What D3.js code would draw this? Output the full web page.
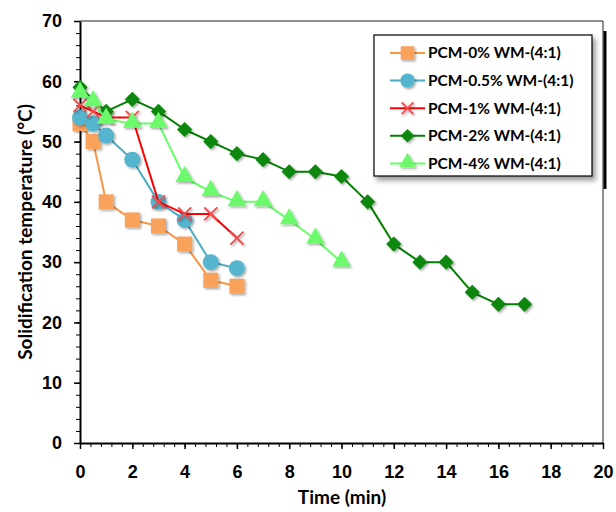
<!DOCTYPE html>
<html>
<head>
<meta charset="utf-8">
<script src="https://cdn.jsdelivr.net/npm/d3@7"></script>
<style>
  body { margin: 0; background: #fff; }
  svg { font-family: Lato, "Liberation Sans", sans-serif; font-weight: bold; }
  .axis text { font-size: 18px; font-weight: bold; fill: #000; }
  .axis path, .axis line { stroke: #000; }
</style>
</head>
<body>
<svg width="616" height="512"></svg>
<script>
// ---- data ----
var seriesNames = ["PCM-0% WM-(4:1)", "PCM-0.5% WM-(4:1)", "PCM-1% WM-(4:1)", "PCM-2% WM-(4:1)", "PCM-4% WM-(4:1)"];

var time0 = [0, 0.5, 1, 2, 3, 4, 5, 6];
var temp0 = [53, 50, 40, 37, 36, 33, 27, 26];

var time05 = [0, 0.5, 1, 2, 3, 4, 5, 6];
var temp05 = [54, 53, 51, 47, 40, 37, 30, 29];

var time1 = [0, 0.5, 1, 2, 3, 4, 5, 6];
var temp1 = [56, 55, 54, 54, 40, 38, 38, 34];

var time2 = [0, 1, 2, 3, 4, 5, 6, 7, 8, 9, 10, 11, 12, 13, 14, 15, 16, 17];
var temp2 = [59, 55, 57, 55, 52, 50, 48, 47, 45, 45, 44.2, 40, 33, 30, 30, 25, 23, 23];

var time4 = [0, 0.5, 1, 2, 3, 4, 5, 6, 7, 8, 9, 10];
var temp4 = [58, 56.6, 53.7, 53, 53, 44, 41.7, 40, 40, 37, 33.8, 30];

var xTicks = [0, 2, 4, 6, 8, 10, 12, 14, 16, 18, 20];
var yTicks = [0, 10, 20, 30, 40, 50, 60, 70];

// ---- styles per series ----
var styles = [
  {line: "#F79646", fill: "#F9A25C", marker: "square"},
  {line: "#4BACC6", fill: "#55B4CE", marker: "circle"},
  {line: "#FF0000", fill: "none",    marker: "x"},
  {line: "#008000", fill: "#0B870B", marker: "diamond"},
  {line: "#66FF66", fill: "#6CFA6C", marker: "triangle"}
];

var seriesData = [[time0, temp0], [time05, temp05], [time1, temp1], [time2, temp2], [time4, temp4]].map(function(s, i) {
  return {
    name: seriesNames[i],
    style: styles[i],
    points: s[0].map(function(t, j) { return {t: t, v: s[1][j]}; })
  };
});

var svg = d3.select("svg");

// drop shadow like the spreadsheet markers
var defs = svg.append("defs");
defs.append("filter").attr("id", "shadow")
    .attr("x", "-50%").attr("y", "-50%").attr("width", "200%").attr("height", "200%")
  .append("feDropShadow")
    .attr("dx", 1.5).attr("dy", 1.5).attr("stdDeviation", 1.3)
    .attr("flood-color", "#000").attr("flood-opacity", 0.35);
defs.append("filter").attr("id", "boxshadow")
    .attr("x", "-10%").attr("y", "-10%").attr("width", "120%").attr("height", "130%")
  .append("feDropShadow")
    .attr("dx", 3).attr("dy", 4).attr("stdDeviation", 2.5)
    .attr("flood-color", "#000").attr("flood-opacity", 0.4);

var x = d3.scaleLinear().domain([0, 20]).range([80, 603]);
var y = d3.scaleLinear().domain([0, 70]).range([443, 21]);

// frame top / right
svg.append("path")
    .attr("d", "M" + x(0) + "," + y(70) + "H" + x(20) + "V" + y(0))
    .attr("fill", "none").attr("stroke", "#222").attr("stroke-width", 1);
// thick edge segment on the right
svg.append("line")
    .attr("x1", 605).attr("x2", 605).attr("y1", 31).attr("y2", 189)
    .attr("stroke", "#000").attr("stroke-width", 3);

// minor ticks
svg.append("g")
    .attr("class", "axis")
    .attr("transform", "translate(" + x(0) + ",0)")
    .call(d3.axisLeft(y).tickValues(d3.range(0, 71, 2)).tickSize(4).tickFormat(""))
    .select(".domain").remove();
svg.append("g")
    .attr("class", "axis")
    .attr("transform", "translate(0," + y(0) + ")")
    .call(d3.axisBottom(x).tickValues(d3.range(0, 51).map(function(d) { return d * 0.4; })).tickSize(4).tickFormat(""))
    .select(".domain").remove();

// major ticks + labels
var yAxis = svg.append("g")
    .attr("class", "axis")
    .attr("transform", "translate(" + x(0) + ",0)")
    .call(d3.axisLeft(y).tickValues(yTicks).tickSizeInner(6).tickSizeOuter(0).tickPadding(12));
yAxis.select(".domain").attr("stroke-width", 2);
yAxis.selectAll("line").attr("stroke-width", 1.5);

var xAxis = svg.append("g")
    .attr("class", "axis")
    .attr("transform", "translate(0," + y(0) + ")")
    .call(d3.axisBottom(x).tickValues(xTicks).tickSizeInner(6).tickSizeOuter(0).tickPadding(16));
xAxis.select(".domain").attr("stroke-width", 2);
xAxis.selectAll("line").attr("stroke-width", 1.5);

// axis titles
svg.append("text")
    .attr("x", 342).attr("y", 504)
    .attr("text-anchor", "middle")
    .style("font-size", "19px")
    .text("Time (min)");
svg.append("text")
    .attr("transform", "translate(32,232) rotate(-90)")
    .attr("text-anchor", "middle")
    .style("font-size", "19px")
    .text("Solidification temperature (°C)");

// marker drawing
function drawMarker(sel, style, scale) {
  scale = scale || 1;
  if (style.marker === "square") {
    sel.append("path").attr("d", d3.symbol(d3.symbolSquare, 225 * scale * scale))
       .attr("fill", style.fill);
  } else if (style.marker === "circle") {
    sel.append("path").attr("d", d3.symbol(d3.symbolCircle, 200 * scale * scale))
       .attr("fill", style.fill);
  } else if (style.marker === "diamond") {
    sel.append("path").attr("d", d3.symbol(d3.symbolSquare, 115 * scale * scale))
       .attr("transform", "rotate(45)")
       .attr("fill", style.fill);
  } else if (style.marker === "triangle") {
    sel.append("path").attr("d", d3.symbol(d3.symbolTriangle, 150 * scale * scale))
       .attr("transform", "translate(0,-1)")
       .attr("fill", style.fill);
  } else if (style.marker === "x") {
    var r = 6.5 * scale;
    sel.append("path")
       .attr("d", "M" + (-r) + "," + (-r) + "L" + r + "," + r + "M" + (-r) + "," + r + "L" + r + "," + (-r))
       .attr("fill", "none")
       .attr("stroke", "#F24A4A")
       .attr("stroke-width", 1.8);
  }
}

var line = d3.line()
    .x(function(d) { return x(d.t); })
    .y(function(d) { return y(d.v); });

var plot = svg.append("g");

seriesData.forEach(function(s) {
  var g = plot.append("g");
  g.append("path")
      .datum(s.points)
      .attr("fill", "none")
      .attr("stroke", s.style.line)
      .attr("stroke-width", 2)
      .attr("stroke-linejoin", "round")
      .attr("d", line);
  g.selectAll(".pt")
      .data(s.points)
    .enter().append("g")
      .attr("class", "pt")
      .attr("filter", "url(#shadow)")
      .attr("transform", function(d) { return "translate(" + x(d.t) + "," + y(d.v) + ")"; })
      .each(function() { drawMarker(d3.select(this), s.style); });
});

// legend
var legend = svg.append("g");
legend.append("rect")
    .attr("x", 374).attr("y", 35).attr("width", 218).attr("height", 141)
    .attr("fill", "#fff").attr("stroke", "#000").attr("stroke-width", 1.2)
    .attr("filter", "url(#boxshadow)");

var items = legend.selectAll(".item")
    .data(seriesData)
  .enter().append("g")
    .attr("class", "item")
    .attr("transform", function(d, i) { return "translate(0," + (53 + i * 27.6) + ")"; });

items.append("line")
    .attr("x1", 390).attr("x2", 425)
    .attr("stroke", function(d) { return d.style.line; })
    .attr("stroke-width", 2);
items.append("g")
    .attr("transform", "translate(407.5,0)")
    .attr("filter", "url(#shadow)")
    .each(function(d) { drawMarker(d3.select(this), d.style, 0.9); });
items.append("text")
    .attr("x", 428).attr("dy", "0.35em")
    .style("font-size", "15.5px")
    .text(function(d) { return d.name; });
</script>
</body>
</html>
